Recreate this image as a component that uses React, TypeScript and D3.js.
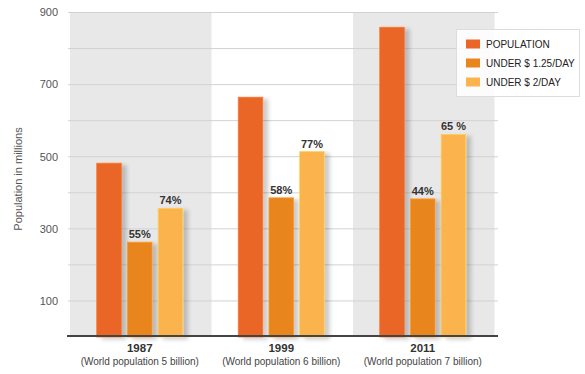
import React from 'react';
import * as d3 from 'd3';

const years = ['1987', '1999', '2011'];
const subtitles = ['(World population 5 billion)', '(World population 6 billion)', '(World population 7 billion)'];
const seriesNames = ['POPULATION', 'UNDER $ 1.25/DAY', 'UNDER $ 2/DAY'];
const population = [482, 665, 859];
const under125 = [263, 386, 383];
const under2 = [357, 514, 562];
const labels125 = ['55%', '58%', '44%'];
const labels2 = ['74%', '77%', '65 %'];
const yTicks = [100, 200, 300, 400, 500, 600, 700, 800, 900];
const yLabelTicks = [100, 300, 500, 700, 900];
const colors = ['#e96627', '#e8851f', '#fbb34d'];

const W = 585;
const H = 374;
const left = 69;
const right = 493.5;
const top = 12.5;
const bottom = 337;
const font = '"Liberation Sans", Arial, sans-serif';

const App = () => {
  const x = d3.scaleBand().domain(years).range([left, right]).padding(0);
  const y = d3.scaleLinear().domain([0, 900]).range([bottom, top]);
  const inner = d3.scaleBand().domain(seriesNames).range([-43, 43]).paddingInner(0.2);
  const series = [population, under125, under2];
  const seriesLabels = [null, labels125, labels2];

  return (
    <svg width={W} height={H} style={{ position: 'absolute', left: 0, top: 0 }} fontFamily={font}>
      <defs>
        <filter id="shadow" x="-30%" y="-10%" width="180%" height="130%">
          <feGaussianBlur in="SourceAlpha" stdDeviation="2.2" />
          <feOffset dx="5" dy="2" result="b" />
          <feComponentTransfer>
            <feFuncA type="linear" slope="0.2" />
          </feComponentTransfer>
          <feMerge>
            <feMergeNode />
            <feMergeNode in="SourceGraphic" />
          </feMerge>
        </filter>
      </defs>
      <rect width={W} height={H} fill="#fff" />
      {years.map((yr, i) =>
        i % 2 === 0 ? (
          <rect key={yr} x={x(yr)! + 1} y={top} width={x.bandwidth()} height={bottom - top} fill="#e8e8e8" />
        ) : null
      )}
      {yTicks.map(t => (
        <line key={t} x1={68} x2={498} y1={y(t)} y2={y(t)} stroke="#d2d2d2" strokeWidth={1} />
      ))}
      {yLabelTicks.map(t => (
        <text key={t} x={58} y={y(t)} dy="0.35em" textAnchor="end" fontSize={11} fill="#555">
          {t}
        </text>
      ))}
      <text transform={`translate(22,179) rotate(-90)`} textAnchor="middle" fontSize={11} fill="#555">
        Population in millions
      </text>
      {years.map((yr, i) => {
        const cx = x(yr)! + x.bandwidth() / 2;
        return (
          <g key={yr}>
            {series.map((s, j) => {
              const bx = cx + inner(seriesNames[j])!;
              const by = y(s[i]);
              const lab = seriesLabels[j];
              return (
                <g key={j}>
                  <rect
                    x={bx}
                    y={by}
                    width={inner.bandwidth()}
                    height={bottom - by}
                    fill={colors[j]}
                    stroke={d3.color(colors[j])!.brighter(0.4).toString()}
                    strokeWidth={0.8}
                    filter="url(#shadow)"
                  />
                  {lab && (
                    <text
                      x={bx + inner.bandwidth() / 2}
                      y={by - 4}
                      textAnchor="middle"
                      fontSize={11}
                      fontWeight="bold"
                      fill="#333"
                    >
                      {lab[i]}
                    </text>
                  )}
                </g>
              );
            })}
            <text x={cx} y={352} textAnchor="middle" fontSize={11.5} fontWeight="bold" fill="#333">
              {yr}
            </text>
            <text x={cx} y={365} textAnchor="middle" fontSize={10} fill="#444">
              {subtitles[i]}
            </text>
          </g>
        );
      })}
      <line x1={67} x2={498} y1={bottom - 1} y2={bottom - 1} stroke="#444" strokeWidth={2} />
      <g>
        <rect x={456.5} y={29.5} width={123} height={67} fill="rgba(255,255,255,0.85)" stroke="#ddd" strokeWidth={1} />
        {seriesNames.map((n, j) => (
          <g key={n} transform={`translate(466,${44 + j * 19})`}>
            <rect x={0} y={-4.5} width={14} height={9} fill={colors[j]} />
            <text x={20} y={0} dy="0.35em" fontSize={10} fill="#222">
              {n}
            </text>
          </g>
        ))}
      </g>
    </svg>
  );
};

export default App;
